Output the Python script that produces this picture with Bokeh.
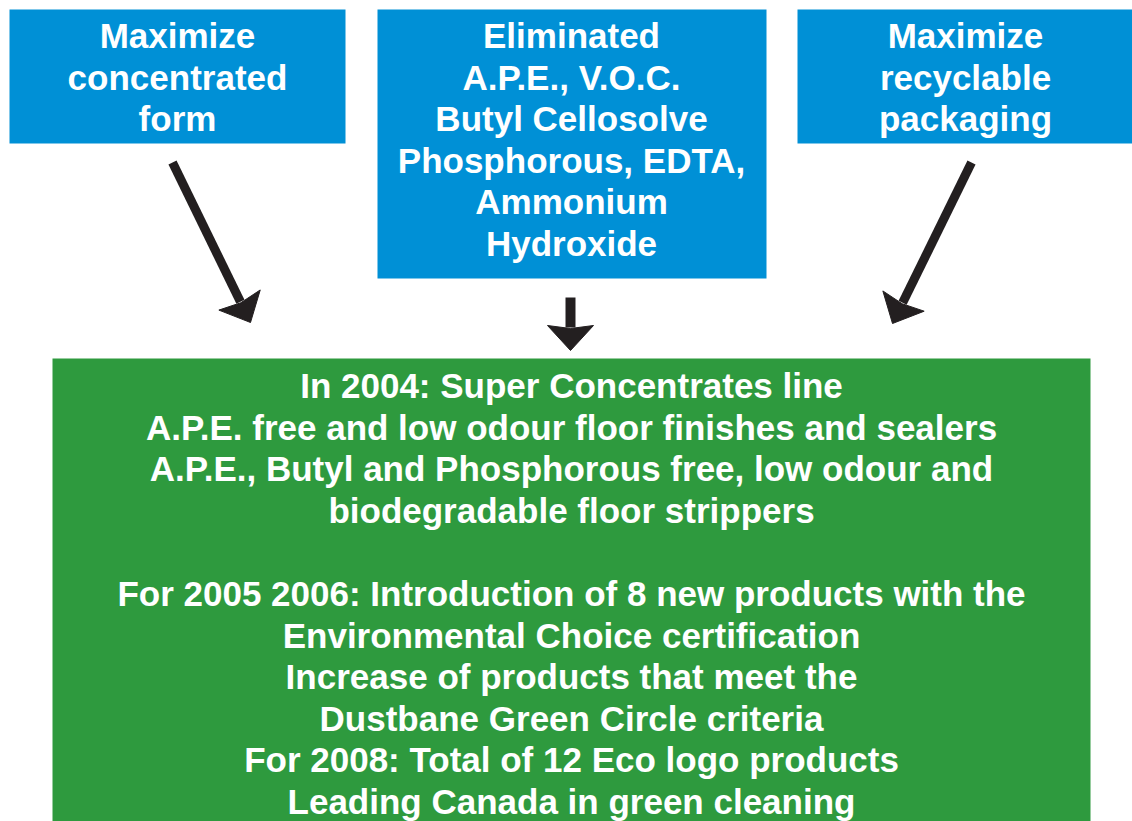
import numpy as np
from bokeh.plotting import figure
from bokeh.models import Range1d
from bokeh.core.properties import value
from bokeh.embed import file_html
from bokeh.resources import INLINE

# ---- content ----
left_lines = ["Maximize", "concentrated", "form"]
mid_lines = ["Eliminated", "A.P.E., V.O.C.", "Butyl Cellosolve",
             "Phosphorous, EDTA,", "Ammonium", "Hydroxide"]
right_lines = ["Maximize", "recyclable", "packaging"]
green_lines = ["In 2004: Super Concentrates line",
               "A.P.E. free and low odour floor finishes and sealers",
               "A.P.E., Butyl and Phosphorous free, low odour and",
               "biodegradable floor strippers",
               "",
               "For 2005 2006: Introduction of 8 new products with the",
               "Environmental Choice certification",
               "Increase of products that meet the",
               "Dustbane Green Circle criteria",
               "For 2008: Total of 12 Eco logo products",
               "Leading Canada in green cleaning"]

# ---- layout (pixel-like coordinates, y grows downward) ----
BLUE = "#0090D6"
GREEN = "#2E9A3E"
DARK = "#231F20"
FONT = value("Liberation Sans")
FS = "35px"
LINE_H = 41.6

p = figure(width=1132, height=821, output_backend="svg", toolbar_location=None,
           x_range=Range1d(0, 1132), y_range=Range1d(821, 0),
           min_border=0)
p.axis.visible = False
p.grid.visible = False
p.outline_line_color = None
p.background_fill_color = "white"
p.border_fill_color = "white"

# boxes
p.quad(left=[9, 377, 797], right=[345, 766, 1140], top=[9, 9, 9],
       bottom=[143, 278, 143], fill_color=BLUE, line_color=None)
p.quad(left=[52], right=[1090], top=[358], bottom=[840],
       fill_color=GREEN, line_color=None)

def draw_lines(lines, xc, y0):
    ys = [y0 + i * LINE_H for i in range(len(lines))]
    p.text(x=[xc] * len(lines), y=ys, text=lines, text_align="center",
           text_baseline="middle", text_font=FONT, text_font_style="bold",
           text_font_size=FS, text_color="white")

draw_lines(left_lines, 177, 35)
draw_lines(mid_lines, 571, 35)
draw_lines(right_lines, 965, 35)
draw_lines(green_lines, 571, 385)

# arrows
def arrow(x0, y0, x1, y1, head_len=25, head_half=23, shaft=9):
    d = np.array([x1 - x0, y1 - y0], dtype=float)
    L = np.hypot(*d)
    d /= L
    n = np.array([-d[1], d[0]])
    tip = np.array([x1, y1], dtype=float)
    base = tip - head_len * d
    p.segment(x0=[x0], y0=[y0], x1=[base[0] + 2 * d[0]], y1=[base[1] + 2 * d[1]],
              line_width=shaft, line_color=DARK, line_cap="butt")
    notch = base + 3 * d
    pts = [base + head_half * n, tip, base - head_half * n, notch]
    p.patch(x=[q[0] for q in pts], y=[q[1] for q in pts],
            fill_color=DARK, line_color=DARK, line_width=1)

arrow(172, 162, 250, 322)
arrow(570, 297, 570, 350, shaft=10)
arrow(971, 162, 892, 323)

open("out.html", "w").write(file_html(p, INLINE))
